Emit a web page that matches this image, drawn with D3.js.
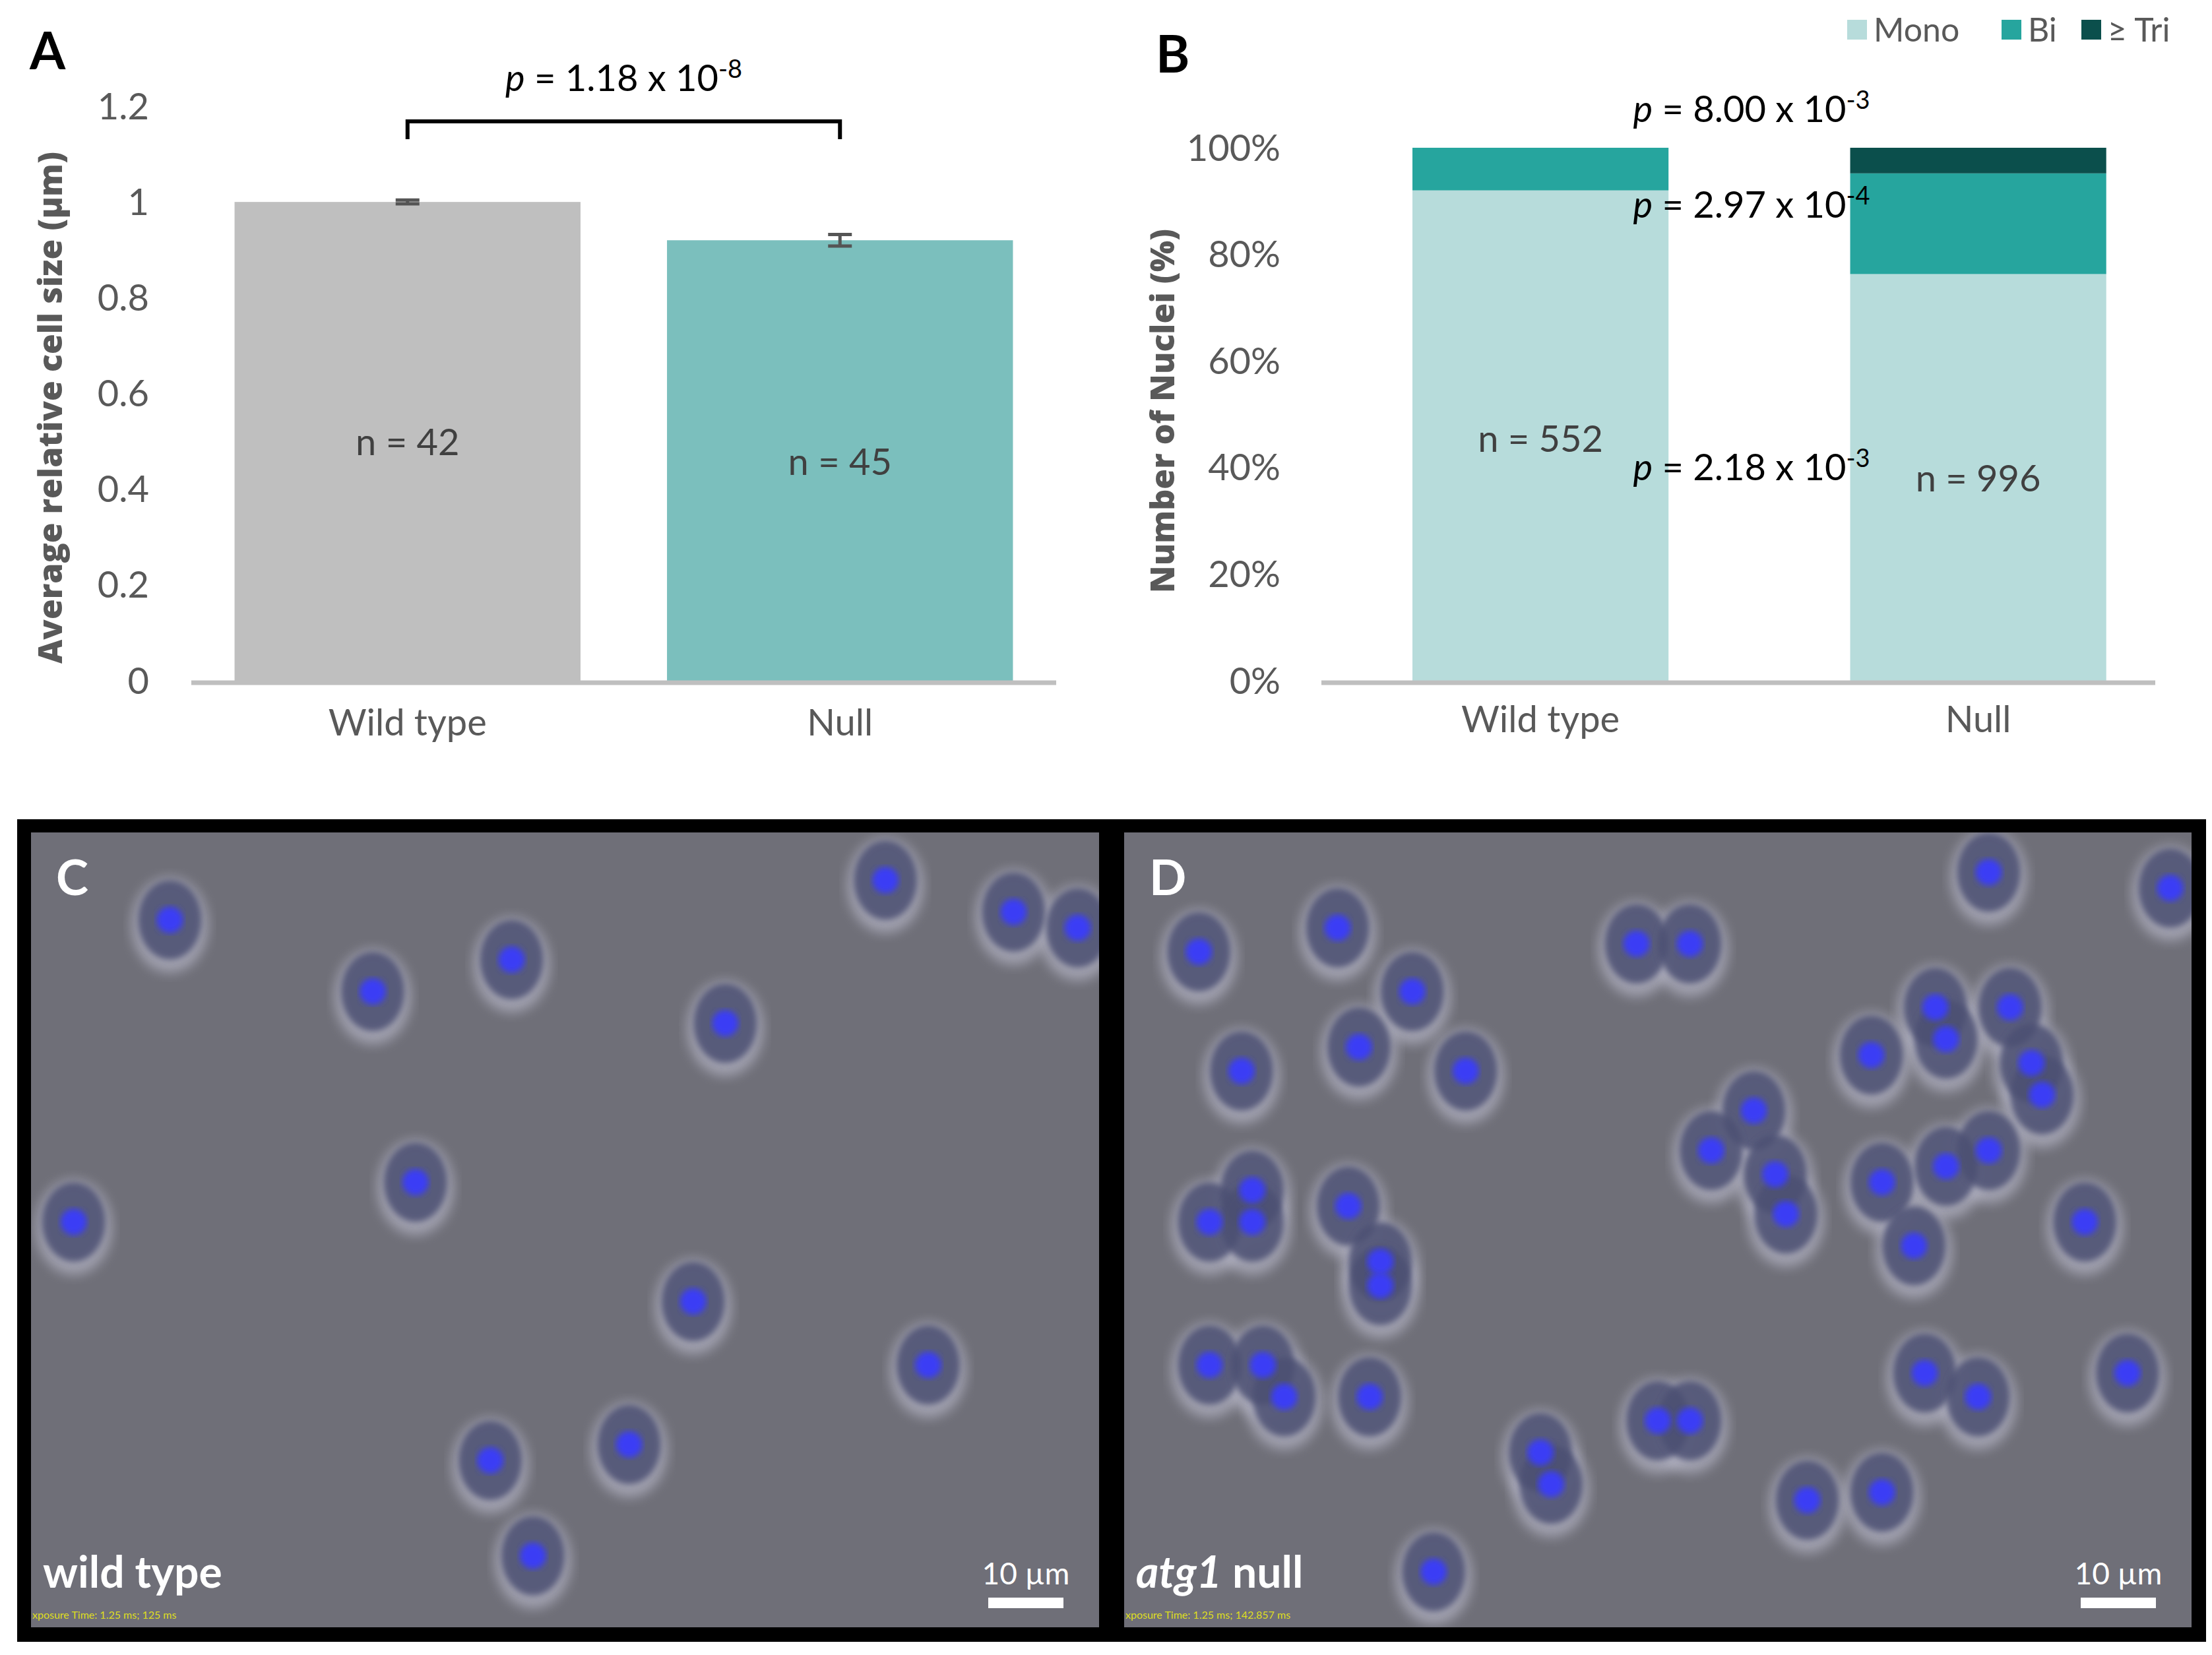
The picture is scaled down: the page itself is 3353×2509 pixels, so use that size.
<!DOCTYPE html>
<html>
<head>
<script src="https://d3js.org/d3.v7.min.js"></script>
<style>
  body{margin:0;background:#fff;}
  text{font-family:Lato,"Open Sans",sans-serif;}
</style>
</head>
<body>
<script>
// ---- data ----
var categories = ["Wild type", "Null"];
var cellSize = [1.0, 0.92];
var cellSizeErr = [0.004, 0.012];
var cellN = ["n = 42", "n = 45"];
var sizeTicks = [0, 0.2, 0.4, 0.6, 0.8, 1, 1.2];

var nucleiKeys = ["Mono", "Bi", "≥ Tri"];
var nucleiMono = [92, 76.3];
var nucleiBi = [8, 18.9];
var nucleiTri = [0, 4.8];
var nucleiN = ["n = 552", "n = 996"];
var pctTicks = [0, 20, 40, 60, 80, 100];

// micrograph nuclei positions (panel-relative, 0..1)
var wtCells = [[0.13,0.11],[0.32,0.20],[0.45,0.16],[0.65,0.24],[0.80,0.06],[0.92,0.10],[0.98,0.12],
  [0.36,0.44],[0.04,0.49],[0.62,0.59],[0.84,0.67],[0.43,0.79],[0.56,0.77],[0.47,0.91]];
var nullCells = [[0.07,0.15],[0.20,0.12],[0.27,0.20],[0.22,0.27],[0.32,0.30],[0.48,0.14],[0.53,0.14],
  [0.81,0.05],[0.98,0.07],[0.11,0.30],[0.76,0.22],[0.83,0.22],[0.77,0.26],[0.70,0.28],[0.85,0.29],[0.86,0.33],
  [0.59,0.35],[0.55,0.40],[0.61,0.43],[0.62,0.48],[0.71,0.44],[0.77,0.42],[0.81,0.40],[0.74,0.52],
  [0.12,0.45],[0.08,0.49],[0.12,0.49],[0.21,0.47],[0.24,0.54],[0.24,0.57],[0.90,0.49],
  [0.08,0.67],[0.13,0.67],[0.15,0.71],[0.23,0.71],[0.50,0.74],[0.53,0.74],[0.39,0.78],[0.40,0.82],
  [0.75,0.68],[0.80,0.71],[0.94,0.68],[0.64,0.84],[0.71,0.83],[0.29,0.93]];

var W = 3353, H = 2509;
var svg = d3.select("body").append("svg").attr("width", W).attr("height", H);
var defs = svg.append("defs");
defs.append("filter").attr("id","blur").append("feGaussianBlur").attr("stdDeviation", 9);
defs.append("filter").attr("id","blur2").append("feGaussianBlur").attr("stdDeviation", 5);

var grey = "#595959";
var titleFont = "'Open Sans',sans-serif";

// ---------- Panel A ----------
var xA = d3.scaleBand().domain(categories).range([290, 1601]).paddingInner(0.2).paddingOuter(0.1);
var yA = d3.scaleLinear().domain([0, 1.2]).range([1032, 161]);
var gA = svg.append("g");
gA.selectAll("rect.bar").data(categories).enter().append("rect")
  .attr("x", d => xA(d)).attr("width", xA.bandwidth())
  .attr("y", (d,i) => yA(cellSize[i])).attr("height", (d,i) => yA(0) - yA(cellSize[i]))
  .attr("fill", (d,i) => i === 0 ? "#bfbfbf" : "#7bbfbd");
gA.selectAll("g.err").data(categories).enter().append("g").each(function(d,i){
  var cx = xA(d) + xA.bandwidth()/2, g = d3.select(this);
  var lo = yA(cellSize[i]-cellSizeErr[i]), hi = yA(cellSize[i]+cellSizeErr[i]);
  g.append("line").attr("x1",cx).attr("x2",cx).attr("y1",lo).attr("y2",hi).attr("stroke","#555").attr("stroke-width",5);
  [lo,hi].forEach(y => g.append("line").attr("x1",cx-18).attr("x2",cx+18).attr("y1",y).attr("y2",y).attr("stroke","#555").attr("stroke-width",5));
});
gA.append("line").attr("x1",290).attr("x2",1601).attr("y1",yA(0)+3).attr("y2",yA(0)+3).attr("stroke","#bfbfbf").attr("stroke-width",7);
gA.selectAll("text.tick").data(sizeTicks).enter().append("text")
  .attr("x", 226).attr("y", d => yA(d)).attr("dy","0.35em").attr("text-anchor","end")
  .attr("font-size",56).attr("fill",grey).text(d => d);
gA.selectAll("text.cat").data(categories).enter().append("text")
  .attr("x", d => xA(d)+xA.bandwidth()/2).attr("y",1115).attr("text-anchor","middle")
  .attr("font-size",56).attr("fill",grey).text(d => d);
gA.selectAll("text.n").data(categories).enter().append("text")
  .attr("x", d => xA(d)+xA.bandwidth()/2).attr("y",(d,i) => i === 0 ? 690 : 720).attr("text-anchor","middle")
  .attr("font-size",56).attr("fill","#404040").text((d,i) => cellN[i]);
gA.append("text").attr("transform","translate(94,618) rotate(-90)").attr("text-anchor","middle")
  .style("font-family",titleFont).attr("font-size",50).attr("font-weight","800").attr("fill",grey).text("Average relative cell size (µm)");
var bx1 = xA(categories[0])+xA.bandwidth()/2, bx2 = xA(categories[1])+xA.bandwidth()/2;
gA.append("path").attr("d","M"+bx1+",211V184H"+bx2+"V211").attr("fill","none").attr("stroke","#000").attr("stroke-width",6);
var pA = gA.append("text").attr("x",(bx1+bx2)/2).attr("y",138).attr("text-anchor","middle").attr("font-size",56);
pA.append("tspan").attr("font-style","italic").text("p");
pA.append("tspan").text(" = 1.18 x 10");
pA.append("tspan").attr("dy",-20).attr("font-size",38).text("-8");
svg.append("text").attr("x",45).attr("y",105).attr("font-size",78).attr("font-weight","bold").text("A");

// ---------- Panel B ----------
var xB = d3.scaleBand().domain(categories).range([2003, 3267]).paddingInner(0.415).paddingOuter(0.16).align(0.65);
var yB = d3.scaleLinear().domain([0, 100]).range([1032, 224]);
var stackData = categories.map((c,i) => ({cat:c, "Mono":nucleiMono[i], "Bi":nucleiBi[i], "≥ Tri":nucleiTri[i]}));
var stack = d3.stack().keys(nucleiKeys)(stackData);
var colB = d3.scaleOrdinal().domain(nucleiKeys).range(["#b7dcdb","#26a59e","#0b4f4c"]);
var gB = svg.append("g");
gB.selectAll("g.layer").data(stack).enter().append("g").attr("fill", d => colB(d.key))
  .selectAll("rect").data(d => d).enter().append("rect")
  .attr("x", d => xB(d.data.cat)).attr("width", xB.bandwidth())
  .attr("y", d => yB(d[1])).attr("height", d => yB(d[0]) - yB(d[1]));
gB.append("line").attr("x1",2003).attr("x2",3267).attr("y1",yB(0)+3).attr("y2",yB(0)+3).attr("stroke","#bfbfbf").attr("stroke-width",7);
gB.selectAll("text.tick").data(pctTicks).enter().append("text")
  .attr("x", 1941).attr("y", d => yB(d)).attr("dy","0.35em").attr("text-anchor","end")
  .attr("font-size",56).attr("fill",grey).text(d => d + "%");
gB.selectAll("text.cat").data(categories).enter().append("text")
  .attr("x", d => xB(d)+xB.bandwidth()/2).attr("y",1110).attr("text-anchor","middle")
  .attr("font-size",56).attr("fill",grey).text(d => d);
gB.selectAll("text.n").data(categories).enter().append("text")
  .attr("x", d => xB(d)+xB.bandwidth()/2).attr("y",(d,i) => i === 0 ? 685 : 745).attr("text-anchor","middle")
  .attr("font-size",56).attr("fill","#404040").text((d,i) => nucleiN[i]);
gB.append("text").attr("transform","translate(1780,623) rotate(-90)").attr("text-anchor","middle")
  .style("font-family",titleFont).attr("font-size",50).attr("font-weight","800").attr("fill",grey).text("Number of Nuclei (%)");
[["8.00","-3",185],["2.97","-4",330],["2.18","-3",728]].forEach(function(p){
  var t = gB.append("text").attr("x",2655).attr("y",p[2]).attr("text-anchor","middle").attr("font-size",56);
  t.append("tspan").attr("font-style","italic").text("p");
  t.append("tspan").text(" = " + p[0] + " x 10");
  t.append("tspan").attr("dy",-20).attr("font-size",38).text(p[1]);
});
var legX = [2800, 3034, 3155];
var leg = gB.selectAll("g.leg").data(nucleiKeys).enter().append("g")
  .attr("transform",(d,i) => "translate(" + legX[i] + ",30)");
leg.append("rect").attr("width",30).attr("height",30).attr("fill", d => colB(d));
leg.append("text").attr("x",40).attr("y",15).attr("dy","0.35em").attr("font-size",50).attr("fill",grey).text(d => d);
svg.append("text").attr("x",1752).attr("y",110).attr("font-size",78).attr("font-weight","bold").text("B");

// ---------- Panels C / D (micrographs) ----------
svg.append("rect").attr("x",26).attr("y",1242).attr("width",3318).attr("height",1247).attr("fill","#000");
var panels = [
  {x:47, y:1262, w:1619, h:1205, cells:wtCells, letter:"C", label:["","wild type"], info:"xposure Time: 1.25 ms; 125 ms"},
  {x:1704, y:1262, w:1618, h:1205, cells:nullCells, letter:"D", label:["atg1"," null"], info:"xposure Time: 1.25 ms; 142.857 ms"}
];
panels.forEach(function(p, k){
  var cid = "clip" + k;
  defs.append("clipPath").attr("id",cid).append("rect").attr("x",p.x).attr("y",p.y).attr("width",p.w).attr("height",p.h);
  var g = svg.append("g").attr("clip-path","url(#" + cid + ")");
  g.append("rect").attr("x",p.x).attr("y",p.y).attr("width",p.w).attr("height",p.h).attr("fill","#6f6f78");
  var px = d3.scaleLinear().domain([0,1]).range([p.x, p.x+p.w]);
  var py = d3.scaleLinear().domain([0,1]).range([p.y, p.y+p.h]);
  g.selectAll("ellipse.halo").data(p.cells).enter().append("ellipse")
    .attr("cx", d => px(d[0])).attr("cy", d => py(d[1]) + 8).attr("rx",58).attr("ry",72)
    .attr("fill","#b6b6c6").attr("opacity",0.7).attr("filter","url(#blur)");
  g.selectAll("ellipse.body").data(p.cells).enter().append("ellipse")
    .attr("cx", d => px(d[0])).attr("cy", d => py(d[1])).attr("rx",48).attr("ry",60)
    .attr("fill","#4c4f72").attr("opacity",0.85).attr("filter","url(#blur2)");
  g.selectAll("circle.nuc").data(p.cells).enter().append("circle")
    .attr("cx", d => px(d[0])).attr("cy", d => py(d[1])).attr("r",20)
    .attr("fill","#3a3cf5").attr("filter","url(#blur2)");
  g.append("text").attr("x",p.x+38).attr("y",p.y+95).attr("font-size",74).attr("font-weight","bold").attr("fill","#fff").text(p.letter);
  var lt = g.append("text").attr("x",p.x+18).attr("y",p.y+1145).attr("font-size",66).attr("font-weight","bold").attr("fill","#fff");
  if (p.label[0]) lt.append("tspan").attr("font-style","italic").text(p.label[0]);
  lt.append("tspan").text(p.label[1]);
  g.append("rect").attr("x",p.x+p.w-168).attr("y",p.y+1160).attr("width",114).attr("height",16).attr("fill","#fff");
  g.append("text").attr("x",p.x+p.w-111).attr("y",p.y+1140).attr("text-anchor","middle").attr("font-size",46).attr("fill","#fff").text("10 µm");
  g.append("text").attr("x",p.x+2).attr("y",p.y+1192).attr("font-size",16).attr("fill","#dede20").text(p.info);
});
</script>
</body>
</html>
